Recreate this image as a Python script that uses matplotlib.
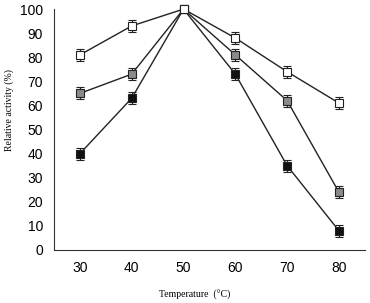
import numpy as np
import matplotlib
matplotlib.use("Agg")
import matplotlib.pyplot as plt

temps = [30, 40, 50, 60, 70, 80]
white = [81, 93, 100, 88, 74, 61]
gray = [65, 73, 100, 81, 62, 24]
black = [40, 63, 100, 73, 35, 8]
err_white = [2.5, 2.5, 0.5, 2.5, 2.5, 2.5]
err_gray = [2.5, 2.5, 0.5, 2.5, 2.5, 2.5]
err_black = [2.5, 2.5, 0.5, 2.5, 2.5, 2.5]

fig = plt.figure(figsize=(3.70, 3.03), dpi=100)
ax = fig.add_axes([0.146, 0.175, 0.840, 0.795])

for y, e, fc in [(black, err_black, "#111111"), (gray, err_gray, "#8a8a8a"), (white, err_white, "white")]:
    lines = ax.errorbar(temps, y, yerr=e, color="#222222", lw=1.0, ecolor="#222222",
                        elinewidth=0.9, capsize=3, capthick=0.9,
                        marker="s", ms=6, mfc=fc, mec="#222222", mew=0.8)
    for art in lines.get_children():
        art.set_clip_on(False)

ax.set_xlim(25, 85)
ax.set_ylim(0, 100)
ax.set_xticks(temps)
ax.set_yticks(range(0, 101, 10))
ax.tick_params(length=0, labelsize=10, pad=8)
for lab in ax.get_xticklabels() + ax.get_yticklabels():
    lab.set_family("Liberation Sans")
ax.spines["top"].set_visible(False)
ax.spines["right"].set_visible(False)
ax.spines["left"].set_color("#333333")
ax.spines["bottom"].set_color("#333333")
ax.set_ylabel("Relative activity (%)", family="Liberation Serif", fontsize=7)
ax.set_xlabel("Temperature  (\u00b0C)", family="Liberation Serif", fontsize=7)
ax.yaxis.set_label_coords(-0.13, 0.58)
ax.xaxis.set_label_coords(0.453, -0.165)

fig.savefig("out.png", dpi=100)
